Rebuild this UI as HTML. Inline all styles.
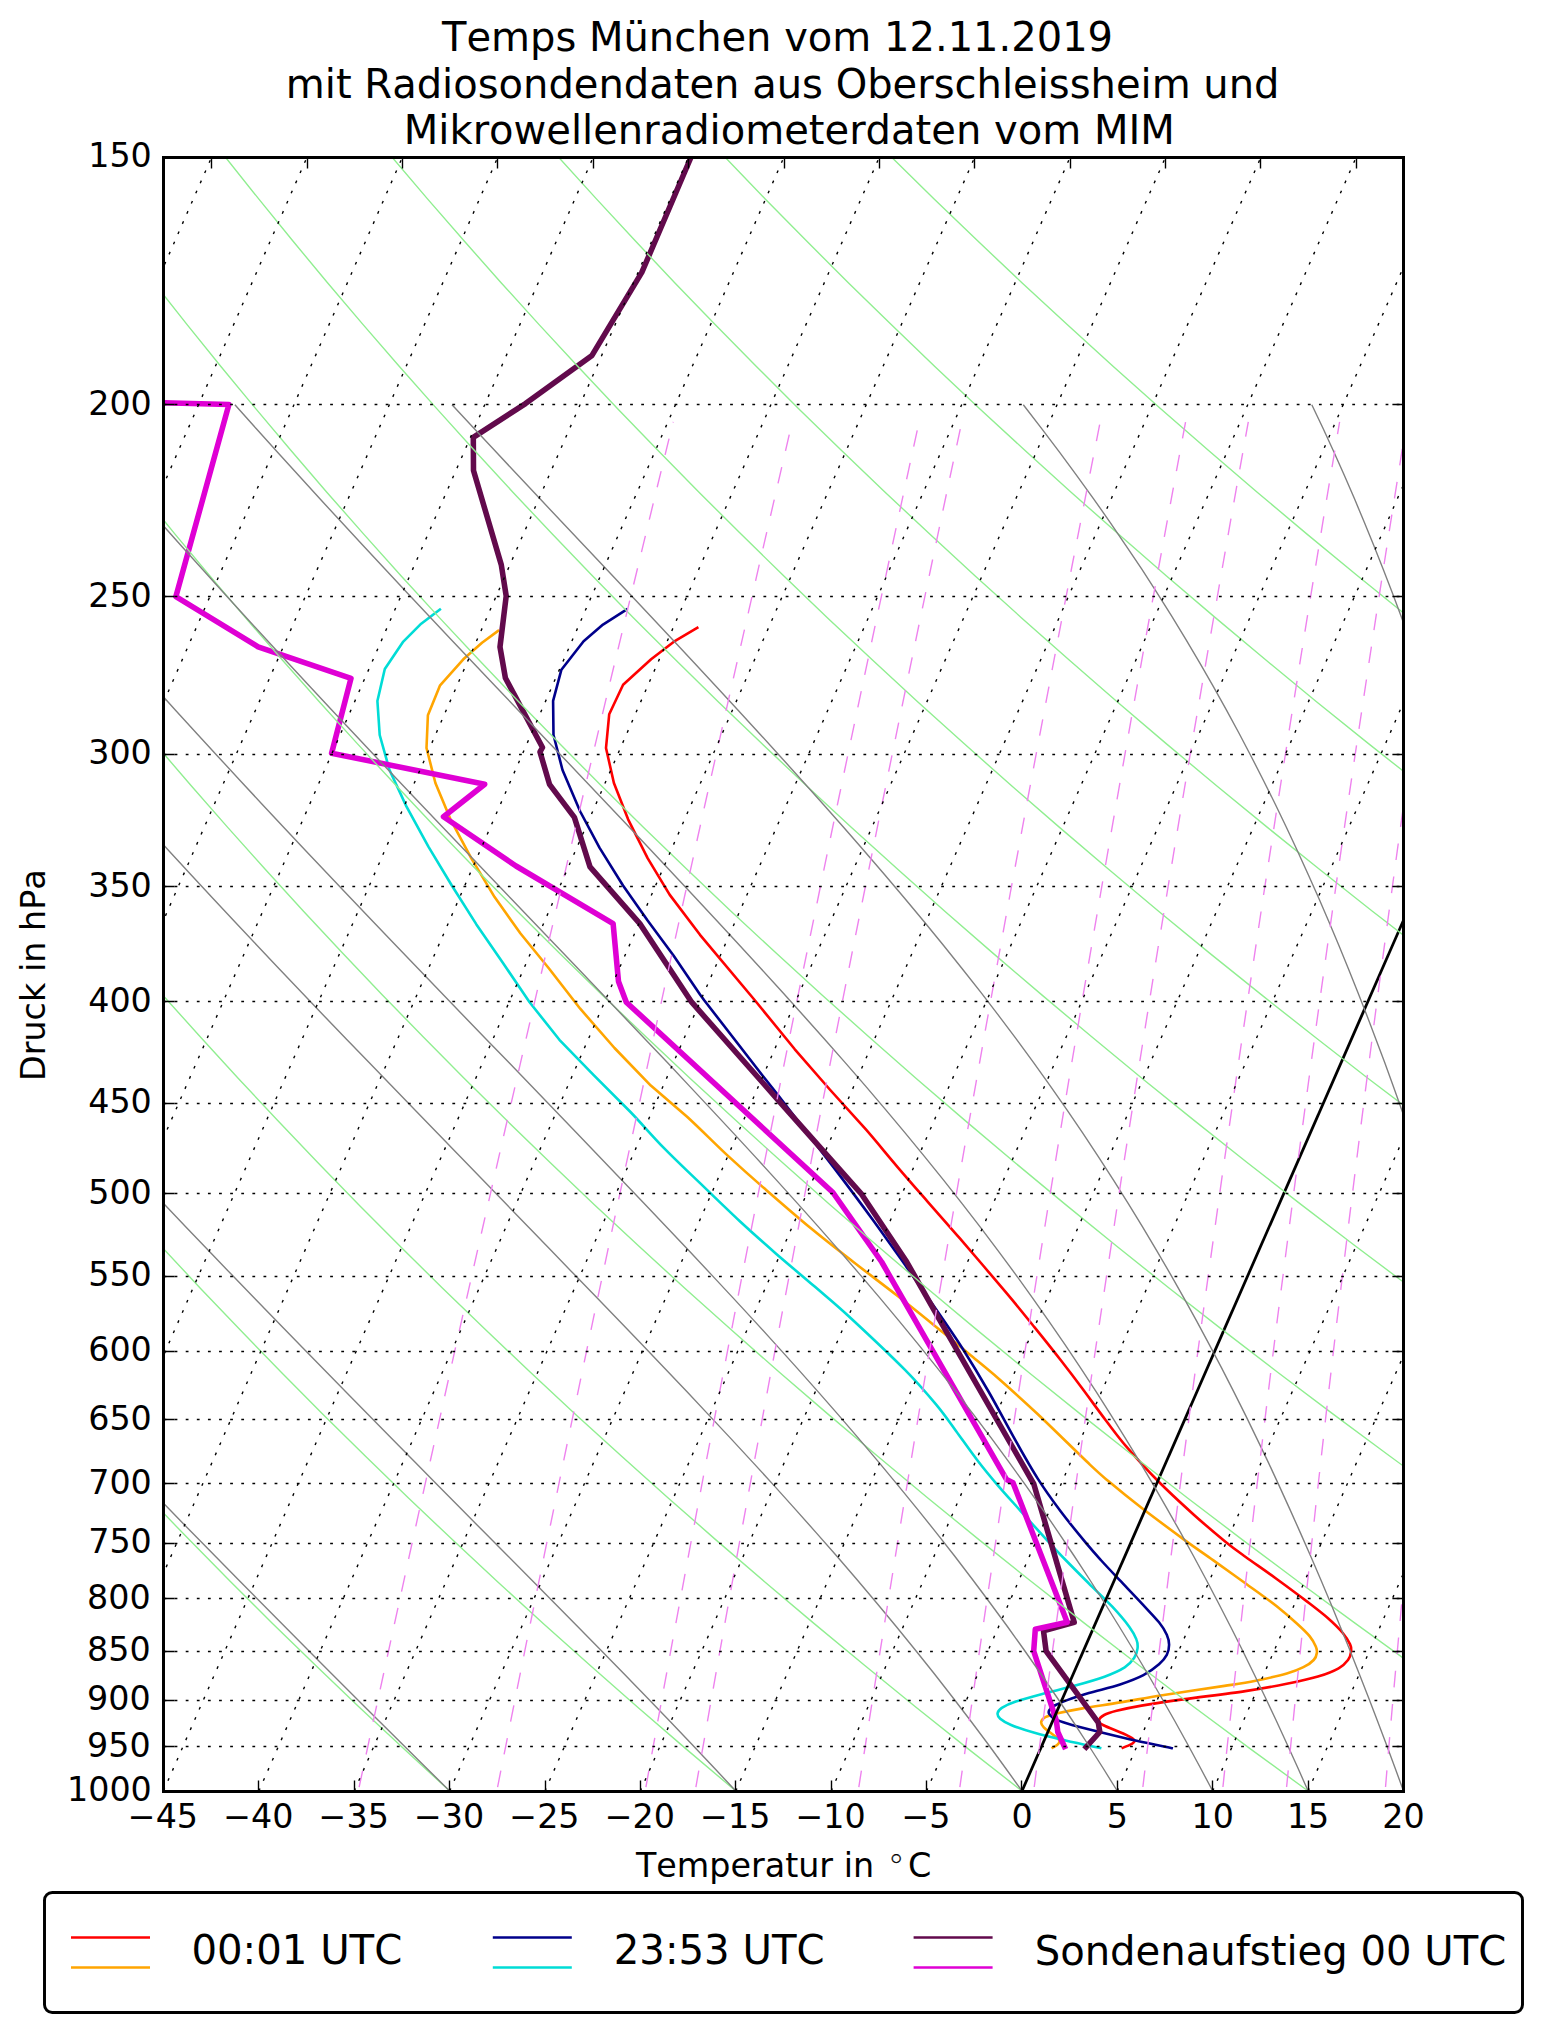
<!DOCTYPE html>
<html lang="de"><head><meta charset="utf-8"><title>Temps München vom 12.11.2019</title>
<style>html,body{margin:0;padding:0;background:#fff}svg{display:block}text{font-family:'DejaVu Sans','Liberation Sans',sans-serif;fill:#000;font-kerning:none;font-variant-ligatures:none}</style>
</head><body>
<svg width="1542" height="2032" viewBox="0 0 1542 2032">
<rect width="1542" height="2032" fill="#fff"/>
<defs><clipPath id="ax"><rect x="163.5" y="157.5" width="1240" height="1634"/></clipPath></defs>
<g clip-path="url(#ax)" fill="none" stroke-linejoin="round" stroke-linecap="butt">
<path d="M698.4,627.1 L673.9,641.7 L651.1,659.3 L623.1,684.8 L609.2,714.3 L606.0,748.0 L613.9,783.0 L628.1,819.3 L647.6,858.2 L669.6,894.6 L700.0,934.8 L754.6,1000.0 L794.8,1049.3 L829.8,1089.5 L866.1,1129.7 C877.4,1142.7 887.4,1155.2 897.8,1167.3 C908.1,1179.4 917.8,1190.4 928.2,1202.3 C938.6,1214.2 947.0,1223.5 960.1,1238.7 C973.2,1253.9 994.4,1278.7 1006.8,1293.4 C1019.2,1308.1 1025.4,1315.9 1034.4,1327.1 C1043.5,1338.3 1053.5,1350.8 1061.2,1360.8 C1069.0,1370.8 1073.6,1376.8 1081.0,1386.8 C1088.5,1396.8 1098.4,1410.6 1105.9,1420.5 C1113.5,1430.4 1117.6,1436.4 1126.2,1446.4 C1134.8,1456.4 1146.2,1469.1 1157.5,1480.5 C1168.7,1491.9 1182.5,1504.5 1193.8,1514.7 C1205.2,1524.9 1216.7,1534.6 1225.4,1541.7 C1234.1,1548.8 1237.7,1551.2 1246.0,1557.2 C1254.3,1563.2 1265.1,1570.5 1275.3,1578.0 C1285.6,1585.5 1298.7,1595.2 1307.5,1601.9 C1316.3,1608.7 1322.4,1613.3 1328.3,1618.5 C1334.2,1623.7 1339.2,1628.7 1342.8,1633.0 C1346.4,1637.3 1348.7,1641.3 1350.1,1644.4 C1351.5,1647.5 1351.4,1649.1 1351.1,1651.7 C1350.8,1654.3 1350.1,1657.2 1348.0,1660.0 C1345.9,1662.8 1343.6,1665.5 1338.6,1668.3 C1333.6,1671.1 1326.5,1674.0 1317.9,1676.6 C1309.3,1679.2 1298.9,1681.4 1286.8,1683.8 C1274.7,1686.2 1262.6,1688.5 1245.3,1691.1 C1228.0,1693.7 1200.3,1697.0 1183.0,1699.4 C1165.7,1701.8 1152.6,1703.7 1141.5,1705.6 C1130.4,1707.5 1122.8,1709.2 1116.6,1710.8 C1110.4,1712.4 1107.1,1713.4 1104.2,1715.0 C1101.3,1716.6 1099.3,1718.6 1099.1,1720.3 C1098.9,1722.0 1099.0,1722.8 1103.0,1725.0 C1107.0,1727.2 1118.2,1731.2 1123.2,1733.5 C1128.2,1735.8 1131.5,1737.6 1133.3,1739.0 C1135.1,1740.4 1134.8,1741.1 1134.1,1742.1 C1133.4,1743.1 1131.5,1744.2 1129.4,1745.2 C1127.3,1746.2 1122.9,1747.8 1121.6,1748.3" stroke="#ff0000" stroke-width="2.60"/>
<path d="M499.1,630.1 L482.0,642.7 L463.3,659.3 L440.1,685.3 L427.9,715.3 L426.5,748.0 L435.4,783.0 L450.5,819.3 L471.2,858.2 L494.6,897.1 L520.5,933.5 L549.0,968.5 L580.2,1008.7 L614.5,1048.0 L650.8,1085.6 L687.1,1116.7 C699.9,1128.4 714.9,1143.7 727.7,1155.6 C740.6,1167.5 750.1,1176.0 764.0,1188.1 C777.9,1200.2 796.0,1216.0 810.9,1228.3 C825.8,1240.6 839.0,1250.7 853.4,1262.0 C867.9,1273.3 882.8,1284.3 897.7,1296.0 C912.6,1307.7 930.8,1322.6 942.8,1332.3 C954.7,1342.0 960.1,1346.5 969.4,1354.3 C978.8,1362.1 987.6,1369.0 999.0,1379.0 C1010.3,1389.0 1022.4,1399.7 1037.6,1414.0 C1052.7,1428.3 1078.0,1453.3 1089.9,1464.6 C1101.8,1475.8 1100.1,1474.2 1108.9,1481.5 C1117.6,1488.8 1129.9,1498.8 1142.4,1508.5 C1155.0,1518.2 1172.2,1530.9 1184.0,1539.6 C1195.8,1548.2 1203.2,1553.1 1213.4,1560.4 C1223.6,1567.7 1234.8,1575.6 1245.3,1583.2 C1255.8,1590.8 1267.8,1599.2 1276.4,1606.0 C1285.0,1612.8 1291.6,1618.7 1297.1,1623.7 C1302.6,1628.7 1306.5,1632.3 1309.6,1636.1 C1312.7,1639.9 1314.6,1643.7 1315.8,1646.5 C1317.0,1649.3 1317.2,1650.5 1316.9,1652.7 C1316.6,1655.0 1316.0,1657.6 1313.7,1660.0 C1311.5,1662.4 1307.9,1665.0 1303.4,1667.2 C1298.9,1669.5 1294.8,1671.2 1286.8,1673.5 C1278.8,1675.8 1266.0,1678.6 1255.6,1680.7 C1245.2,1682.8 1240.0,1683.5 1224.5,1685.9 C1209.0,1688.3 1179.7,1692.5 1162.3,1695.2 C1144.9,1698.0 1133.6,1700.2 1120.1,1702.4 C1106.6,1704.6 1091.6,1706.8 1081.2,1708.6 C1070.8,1710.4 1063.8,1711.9 1057.8,1713.3 C1051.8,1714.7 1048.2,1715.8 1045.4,1717.2 C1042.6,1718.6 1041.5,1720.2 1041.2,1721.9 C1040.9,1723.6 1041.5,1725.0 1043.8,1727.3 C1046.0,1729.6 1052.1,1733.7 1054.7,1735.9 C1057.3,1738.1 1058.9,1739.1 1059.4,1740.5 C1059.9,1741.9 1059.1,1743.1 1057.8,1744.4 C1056.5,1745.7 1052.6,1747.7 1051.6,1748.3" stroke="#ffa500" stroke-width="2.60"/>
<path d="M627.6,608.9 L603.0,624.6 L583.6,641.2 L561.4,669.7 L553.1,700.8 L553.5,735.0 L562.5,770.0 L580.2,811.5 L599.6,847.9 L623.0,885.5 L647.6,920.5 L673.5,955.5 L700.0,994.4 L704.0,1000.0 L762.3,1075.2 L778.0,1095.0 L834.6,1168.6 C850.5,1189.5 861.3,1204.0 873.3,1220.5 C885.3,1237.0 896.0,1252.2 906.8,1267.4 C917.5,1282.6 928.3,1297.9 937.6,1311.5 C947.0,1325.1 954.4,1335.8 963.0,1349.2 C971.5,1362.6 980.0,1376.7 988.8,1392.0 C997.6,1407.3 1007.7,1426.7 1015.9,1441.2 C1024.0,1455.7 1030.4,1467.2 1037.9,1478.9 C1045.3,1490.6 1052.7,1500.7 1060.6,1511.3 C1068.6,1521.9 1078.8,1534.3 1085.5,1542.4 C1092.2,1550.5 1095.1,1553.7 1100.8,1560.0 C1106.5,1566.3 1112.8,1572.9 1119.7,1580.2 C1126.6,1587.5 1135.4,1596.6 1141.9,1603.6 C1148.4,1610.6 1154.8,1617.1 1159.0,1622.3 C1163.2,1627.5 1165.1,1631.0 1166.8,1634.7 C1168.5,1638.5 1169.1,1641.4 1169.1,1644.8 C1169.1,1648.2 1168.5,1651.7 1166.8,1654.9 C1165.1,1658.2 1162.9,1660.9 1159.0,1664.3 C1155.1,1667.7 1149.9,1671.8 1143.4,1675.2 C1136.9,1678.6 1129.2,1681.5 1120.1,1684.5 C1111.0,1687.5 1097.7,1690.5 1088.9,1693.1 C1080.1,1695.7 1072.9,1698.0 1067.2,1700.1 C1061.5,1702.2 1057.7,1703.8 1054.7,1705.5 C1051.7,1707.2 1050.2,1708.8 1049.3,1710.2 C1048.4,1711.6 1048.4,1712.7 1049.3,1714.1 C1050.2,1715.5 1051.7,1717.2 1054.7,1718.8 C1057.7,1720.3 1060.2,1721.3 1067.2,1723.4 C1074.2,1725.5 1085.3,1728.4 1096.7,1731.2 C1108.1,1734.0 1122.9,1737.7 1135.6,1740.5 C1148.3,1743.3 1166.8,1747.0 1173.0,1748.3" stroke="#00008b" stroke-width="2.60"/>
<path d="M440.9,608.7 L421.2,623.7 L403.3,641.6 L384.8,669.0 L377.4,701.0 L379.7,735.0 L389.5,770.0 L406.4,806.4 L428.4,846.6 L451.8,885.5 L476.4,924.4 L502.3,962.0 L529.6,1002.2 L559.4,1039.8 L593.7,1075.2 L630.0,1111.5 C641.7,1123.6 652.2,1136.0 663.8,1147.9 C675.4,1159.8 687.0,1170.6 699.8,1182.9 C712.5,1195.2 727.9,1210.1 740.4,1221.8 C753.0,1233.5 762.8,1242.1 775.2,1252.9 C787.6,1263.7 802.4,1276.0 814.7,1286.6 C827.0,1297.2 833.9,1302.6 849.0,1316.5 C864.0,1330.4 890.4,1355.2 905.0,1369.9 C919.5,1384.6 927.9,1394.7 936.4,1404.9 C944.9,1415.1 949.1,1421.6 956.0,1430.9 C962.8,1440.2 970.7,1451.6 977.7,1460.7 C984.7,1469.8 990.6,1476.9 997.8,1485.3 C1005.0,1493.7 1012.8,1502.2 1020.9,1511.3 C1029.1,1520.4 1039.2,1531.7 1046.7,1539.8 C1054.1,1547.9 1058.6,1552.8 1065.6,1560.0 C1072.6,1567.2 1080.9,1575.5 1088.7,1583.3 C1096.5,1591.1 1105.5,1599.4 1112.3,1606.7 C1119.1,1614.0 1125.4,1621.5 1129.4,1626.9 C1133.4,1632.4 1135.1,1635.8 1136.4,1639.4 C1137.8,1643.0 1137.9,1645.6 1137.5,1648.7 C1137.1,1651.8 1136.2,1655.0 1134.1,1658.1 C1132.0,1661.2 1129.6,1664.3 1124.7,1667.4 C1119.8,1670.5 1113.0,1673.6 1104.5,1676.7 C1096.0,1679.8 1083.8,1683.2 1073.4,1686.1 C1063.0,1689.0 1051.9,1691.3 1042.3,1693.9 C1032.7,1696.5 1022.5,1699.3 1015.8,1701.6 C1009.0,1703.9 1004.8,1706.0 1001.8,1707.9 C998.8,1709.9 997.9,1711.5 997.6,1713.3 C997.3,1715.1 998.0,1716.8 1000.2,1718.8 C1002.5,1720.8 1005.4,1722.7 1011.1,1725.0 C1016.8,1727.3 1025.4,1730.2 1034.5,1732.8 C1043.6,1735.4 1054.4,1737.9 1065.6,1740.5 C1076.8,1743.1 1095.4,1747.0 1101.4,1748.3" stroke="#00dcd6" stroke-width="2.60"/>
<path d="M691.1,157.0 L641.8,272.4 L592.0,355.4 L525.5,403.6 L473.3,437.3 L473.5,470.5 L501.3,564.9 L506.2,596.0 L500.0,646.9 L505.4,678.0 L542.5,747.5 L540.0,751.9 L549.5,784.3 L574.4,817.3 L590.0,866.8 L639.8,923.6 L691.7,1002.2 L777.9,1099.9 L860.9,1193.3 L906.5,1261.5 L937.8,1316.7 L1033.8,1484.0 L1074.2,1622.3 L1043.5,1630.8 L1046.1,1651.1 L1098.3,1722.6 L1099.8,1732.0 L1084.3,1749.1" stroke="#620a4c" stroke-width="5.56"/>
<path d="M163.5,402.8 L228.9,404.5 L175.9,596.6 L258.1,646.8 L351.0,678.3 L331.6,753.2 L484.7,784.3 L443.5,816.7 L516.0,866.0 L613.1,923.6 L618.5,981.5 L626.3,1002.2 L832.9,1192.5 L881.7,1262.0 L1006.6,1479.6 L1013.0,1482.7 L1067.2,1622.3 L1035.3,1629.3 L1033.7,1651.1 L1056.3,1720.3 L1057.8,1732.0 L1065.6,1749.1" stroke="#df00d4" stroke-width="5.56"/>
<path d="M1022.0,1791.0 L1737.9,157.0" stroke="#000" stroke-width="2.78"/>
<path d="M163.5,1791.0 L121.8,1749.1 L81.0,1707.2 L41.0,1665.3 L1.8,1623.4 L-36.6,1581.5 L-74.2,1539.6 L-111.1,1497.7 L-147.2,1455.8 L-182.5,1413.9 L-217.1,1372.0 L-251.0,1330.1 L-284.1,1288.2 L-316.6,1246.3 L-348.3,1204.4 L-379.4,1162.5 L-409.7,1120.6 L-439.4,1078.7 L-468.5,1036.8 L-496.8,994.9 L-524.6,953.1 L-551.7,911.2 L-578.2,869.3 L-604.0,827.4 L-629.3,785.5 L-653.9,743.6 L-678.0,701.7 L-701.4,659.8 L-724.3,617.9 L-746.7,576.0 L-768.4,534.1 L-789.6,492.2 L-810.3,450.3 L-830.4,408.4 L-850.0,366.5 L-869.1,324.6 L-887.6,282.7 L-905.7,240.8 L-923.2,198.9 L-940.3,157.0 M449.7,1791.0 L404.1,1749.1 L359.3,1707.2 L315.5,1665.3 L272.5,1623.4 L230.4,1581.5 L189.1,1539.6 L148.6,1497.7 L108.9,1455.8 L70.0,1413.9 L32.0,1372.0 L-5.4,1330.1 L-41.9,1288.2 L-77.7,1246.3 L-112.7,1204.4 L-147.0,1162.5 L-180.6,1120.6 L-213.4,1078.7 L-245.6,1036.8 L-277.0,994.9 L-307.8,953.1 L-337.9,911.2 L-367.3,869.3 L-396.1,827.4 L-424.2,785.5 L-451.7,743.6 L-478.5,701.7 L-504.7,659.8 L-530.3,617.9 L-555.3,576.0 L-579.7,534.1 L-603.5,492.2 L-626.8,450.3 L-649.4,408.4 L-671.5,366.5 L-693.1,324.6 L-714.0,282.7 L-734.5,240.8 L-754.4,198.9 L-773.8,157.0 M735.8,1791.0 L686.3,1749.1 L637.7,1707.2 L590.0,1665.3 L543.2,1623.4 L497.3,1581.5 L452.3,1539.6 L408.2,1497.7 L365.0,1455.8 L322.6,1413.9 L281.0,1372.0 L240.3,1330.1 L200.3,1288.2 L161.2,1246.3 L122.9,1204.4 L85.4,1162.5 L48.6,1120.6 L12.6,1078.7 L-22.7,1036.8 L-57.2,994.9 L-91.0,953.1 L-124.1,911.2 L-156.5,869.3 L-188.2,827.4 L-219.1,785.5 L-249.4,743.6 L-279.1,701.7 L-308.0,659.8 L-336.3,617.9 L-364.0,576.0 L-391.1,534.1 L-417.5,492.2 L-443.3,450.3 L-468.5,408.4 L-493.0,366.5 L-517.0,324.6 L-540.4,282.7 L-563.3,240.8 L-585.5,198.9 L-607.2,157.0 M1022.0,1791.0 L968.5,1749.1 L916.0,1707.2 L864.5,1665.3 L813.9,1623.4 L764.3,1581.5 L715.6,1539.6 L667.9,1497.7 L621.1,1455.8 L575.1,1413.9 L530.1,1372.0 L485.9,1330.1 L442.6,1288.2 L400.1,1246.3 L358.5,1204.4 L317.7,1162.5 L277.7,1120.6 L238.6,1078.7 L200.2,1036.8 L162.6,994.9 L125.7,953.1 L89.7,911.2 L54.4,869.3 L19.8,827.4 L-14.1,785.5 L-47.2,743.6 L-79.6,701.7 L-111.3,659.8 L-142.4,617.9 L-172.7,576.0 L-202.4,534.1 L-231.4,492.2 L-259.8,450.3 L-287.5,408.4 L-314.6,366.5 L-341.0,324.6 L-366.8,282.7 L-392.1,240.8 L-416.7,198.9 L-440.7,157.0 M1308.1,1791.0 L1250.7,1749.1 L1194.3,1707.2 L1138.9,1665.3 L1084.6,1623.4 L1031.3,1581.5 L978.9,1539.6 L927.5,1497.7 L877.1,1455.8 L827.7,1413.9 L779.1,1372.0 L731.5,1330.1 L684.8,1288.2 L639.0,1246.3 L594.1,1204.4 L550.1,1162.5 L506.9,1120.6 L464.6,1078.7 L423.1,1036.8 L382.4,994.9 L342.5,953.1 L303.5,911.2 L265.2,869.3 L227.7,827.4 L191.0,785.5 L155.0,743.6 L119.8,701.7 L85.4,659.8 L51.6,617.9 L18.6,576.0 L-13.7,534.1 L-45.3,492.2 L-76.2,450.3 L-106.5,408.4 L-136.1,366.5 L-165.0,324.6 L-193.2,282.7 L-220.9,240.8 L-247.9,198.9 L-274.2,157.0 M1594.3,1791.0 L1532.9,1749.1 L1472.6,1707.2 L1413.4,1665.3 L1355.3,1623.4 L1298.2,1581.5 L1242.2,1539.6 L1187.2,1497.7 L1133.2,1455.8 L1080.2,1413.9 L1028.2,1372.0 L977.2,1330.1 L927.1,1288.2 L877.9,1246.3 L829.7,1204.4 L782.4,1162.5 L736.0,1120.6 L690.5,1078.7 L645.9,1036.8 L602.2,994.9 L559.3,953.1 L517.3,911.2 L476.0,869.3 L435.6,827.4 L396.1,785.5 L357.3,743.6 L319.3,701.7 L282.1,659.8 L245.6,617.9 L209.9,576.0 L175.0,534.1 L140.8,492.2 L107.3,450.3 L74.5,408.4 L42.4,366.5 L11.0,324.6 L-19.6,282.7 L-49.7,240.8 L-79.0,198.9 L-107.7,157.0 M1880.4,1791.0 L1815.1,1749.1 L1750.9,1707.2 L1687.9,1665.3 L1626.0,1623.4 L1565.2,1581.5 L1505.5,1539.6 L1446.9,1497.7 L1389.3,1455.8 L1332.8,1413.9 L1277.3,1372.0 L1222.8,1330.1 L1169.3,1288.2 L1116.8,1246.3 L1065.3,1204.4 L1014.8,1162.5 L965.2,1120.6 L916.5,1078.7 L868.8,1036.8 L822.0,994.9 L776.1,953.1 L731.0,911.2 L686.9,869.3 L643.6,827.4 L601.1,785.5 L559.5,743.6 L518.7,701.7 L478.8,659.8 L439.6,617.9 L401.2,576.0 L363.7,534.1 L326.8,492.2 L290.8,450.3 L255.5,408.4 L220.9,366.5 L187.1,324.6 L154.0,282.7 L121.5,240.8 L89.8,198.9 L58.8,157.0 M2166.6,1791.0 L2097.3,1749.1 L2029.3,1707.2 L1962.4,1665.3 L1896.7,1623.4 L1832.2,1581.5 L1768.8,1539.6 L1706.5,1497.7 L1645.4,1455.8 L1585.3,1413.9 L1526.3,1372.0 L1468.4,1330.1 L1411.6,1288.2 L1355.7,1246.3 L1300.9,1204.4 L1247.1,1162.5 L1194.4,1120.6 L1142.5,1078.7 L1091.7,1036.8 L1041.8,994.9 L992.9,953.1 L944.8,911.2 L897.7,869.3 L851.5,827.4 L806.2,785.5 L761.8,743.6 L718.2,701.7 L675.5,659.8 L633.6,617.9 L592.6,576.0 L552.3,534.1 L512.9,492.2 L474.3,450.3 L436.5,408.4 L399.4,366.5 L363.1,324.6 L327.5,282.7 L292.7,240.8 L258.7,198.9 L225.3,157.0 M2452.7,1791.0 L2379.5,1749.1 L2307.6,1707.2 L2236.9,1665.3 L2167.4,1623.4 L2099.1,1581.5 L2032.1,1539.6 L1966.2,1497.7 L1901.4,1455.8 L1837.8,1413.9 L1775.4,1372.0 L1714.0,1330.1 L1653.8,1288.2 L1594.6,1246.3 L1536.5,1204.4 L1479.5,1162.5 L1423.5,1120.6 L1368.5,1078.7 L1314.6,1036.8 L1261.6,994.9 L1209.6,953.1 L1158.6,911.2 L1108.6,869.3 L1059.5,827.4 L1011.3,785.5 L964.0,743.6 L917.6,701.7 L872.2,659.8 L827.6,617.9 L783.9,576.0 L741.0,534.1 L699.0,492.2 L657.8,450.3 L617.4,408.4 L577.9,366.5 L539.1,324.6 L501.1,282.7 L464.0,240.8 L427.5,198.9 L391.9,157.0 M2738.9,1791.0 L2661.7,1749.1 L2585.9,1707.2 L2511.3,1665.3 L2438.1,1623.4 L2366.1,1581.5 L2295.3,1539.6 L2225.8,1497.7 L2157.5,1455.8 L2090.4,1413.9 L2024.4,1372.0 L1959.7,1330.1 L1896.0,1288.2 L1833.5,1246.3 L1772.2,1204.4 L1711.9,1162.5 L1652.7,1120.6 L1594.5,1078.7 L1537.5,1036.8 L1481.4,994.9 L1426.4,953.1 L1372.4,911.2 L1319.4,869.3 L1267.4,827.4 L1216.3,785.5 L1166.2,743.6 L1117.1,701.7 L1068.9,659.8 L1021.6,617.9 L975.2,576.0 L929.7,534.1 L885.1,492.2 L841.3,450.3 L798.4,408.4 L756.4,366.5 L715.1,324.6 L674.7,282.7 L635.2,240.8 L596.4,198.9 L558.4,157.0 M3025.0,1791.0 L2943.9,1749.1 L2864.2,1707.2 L2785.8,1665.3 L2708.8,1623.4 L2633.1,1581.5 L2558.6,1539.6 L2485.5,1497.7 L2413.6,1455.8 L2342.9,1413.9 L2273.5,1372.0 L2205.3,1330.1 L2138.3,1288.2 L2072.4,1246.3 L2007.8,1204.4 L1944.2,1162.5 L1881.8,1120.6 L1820.5,1078.7 L1760.3,1036.8 L1701.2,994.9 L1643.2,953.1 L1586.2,911.2 L1530.2,869.3 L1475.3,827.4 L1421.4,785.5 L1368.5,743.6 L1316.5,701.7 L1265.6,659.8 L1215.6,617.9 L1166.5,576.0 L1118.4,534.1 L1071.1,492.2 L1024.8,450.3 L979.4,408.4 L934.8,366.5 L891.2,324.6 L848.3,282.7 L806.4,240.8 L765.2,198.9 L724.9,157.0 M3311.2,1791.0 L3226.1,1749.1 L3142.5,1707.2 L3060.3,1665.3 L2979.5,1623.4 L2900.0,1581.5 L2821.9,1539.6 L2745.1,1497.7 L2669.6,1455.8 L2595.5,1413.9 L2522.6,1372.0 L2450.9,1330.1 L2380.5,1288.2 L2311.3,1246.3 L2243.4,1204.4 L2176.6,1162.5 L2111.0,1120.6 L2046.5,1078.7 L1983.2,1036.8 L1921.0,994.9 L1860.0,953.1 L1800.0,911.2 L1741.1,869.3 L1683.3,827.4 L1626.5,785.5 L1570.7,743.6 L1516.0,701.7 L1462.3,659.8 L1409.6,617.9 L1357.8,576.0 L1307.0,534.1 L1257.2,492.2 L1208.3,450.3 L1160.4,408.4 L1113.3,366.5 L1067.2,324.6 L1021.9,282.7 L977.6,240.8 L934.1,198.9 L891.4,157.0" stroke="#90ee90" stroke-width="1.39"/>
<path d="M449.7,1791.0 L425.9,1767.5 L402.2,1744.0 L378.5,1720.5 L354.9,1697.0 L331.4,1673.5 L308.0,1650.0 L284.7,1626.5 L261.4,1603.0 L238.2,1579.5 L215.1,1556.0 L192.0,1532.6 L169.1,1509.1 L146.2,1485.6 L123.5,1462.1 L100.9,1438.6 L78.4,1415.1 L56.1,1391.6 L33.9,1368.1 L11.9,1344.6 L-10.0,1321.1 L-31.8,1297.6 L-53.4,1274.1 L-74.8,1250.6 L-96.1,1227.1 L-117.2,1203.6 L-138.2,1180.1 L-158.9,1156.6 L-179.6,1133.1 L-200.0,1109.6 L-220.3,1086.1 L-240.5,1062.6 L-260.4,1039.2 L-280.2,1015.7 L-299.8,992.2 L-319.3,968.7 L-338.6,945.2 L-357.7,921.7 L-376.7,898.2 L-395.5,874.7 L-414.1,851.2 L-432.6,827.7 L-450.9,804.2 L-469.1,780.7 L-487.0,757.2 L-504.9,733.7 L-522.5,710.2 L-540.0,686.7 L-557.3,663.2 L-574.5,639.7 L-591.5,616.2 L-608.3,592.7 L-625.0,569.2 L-641.5,545.8 L-657.9,522.3 L-674.1,498.8 L-690.1,475.3 L-706.0,451.8 L-721.7,428.3 L-737.3,404.8 M735.8,1791.0 L713.8,1767.5 L691.6,1744.0 L669.2,1720.5 L646.5,1697.0 L623.7,1673.5 L600.7,1650.0 L577.6,1626.5 L554.4,1603.0 L531.2,1579.5 L507.9,1556.0 L484.6,1532.6 L461.3,1509.1 L438.0,1485.6 L414.9,1462.1 L391.7,1438.6 L368.6,1415.1 L345.5,1391.6 L322.5,1368.1 L299.5,1344.6 L276.6,1321.1 L253.8,1297.6 L231.1,1274.1 L208.5,1250.6 L185.9,1227.1 L163.6,1203.6 L141.3,1180.1 L119.2,1156.6 L97.2,1133.1 L75.4,1109.6 L53.7,1086.1 L32.2,1062.6 L10.8,1039.2 L-10.5,1015.7 L-31.5,992.2 L-52.4,968.7 L-73.2,945.2 L-93.8,921.7 L-114.2,898.2 L-134.4,874.7 L-154.5,851.2 L-174.4,827.7 L-194.2,804.2 L-213.8,780.7 L-233.2,757.2 L-252.5,733.7 L-271.6,710.2 L-290.5,686.7 L-309.3,663.2 L-327.9,639.7 L-346.3,616.2 L-364.6,592.7 L-382.7,569.2 L-400.6,545.8 L-418.4,522.3 L-436.0,498.8 L-453.5,475.3 L-470.8,451.8 L-487.9,428.3 L-504.8,404.8 M1022.0,1791.0 L1005.1,1767.5 L988.0,1744.0 L970.4,1720.5 L952.4,1697.0 L934.1,1673.5 L915.3,1650.0 L896.2,1626.5 L876.7,1603.0 L856.9,1579.5 L836.7,1556.0 L816.1,1532.6 L795.2,1509.1 L774.1,1485.6 L752.6,1462.1 L730.9,1438.6 L708.9,1415.1 L686.8,1391.6 L664.4,1368.1 L642.0,1344.6 L619.4,1321.1 L596.7,1297.6 L573.9,1274.1 L551.2,1250.6 L528.4,1227.1 L505.7,1203.6 L482.9,1180.1 L460.1,1156.6 L437.3,1133.1 L414.5,1109.6 L391.8,1086.1 L369.1,1062.6 L346.5,1039.2 L323.9,1015.7 L301.5,992.2 L279.1,968.7 L256.9,945.2 L234.8,921.7 L212.8,898.2 L191.0,874.7 L169.3,851.2 L147.7,827.7 L126.3,804.2 L105.0,780.7 L83.9,757.2 L62.9,733.7 L42.2,710.2 L21.5,686.7 L1.0,663.2 L-19.3,639.7 L-39.4,616.2 L-59.4,592.7 L-79.2,569.2 L-98.9,545.8 L-118.4,522.3 L-137.7,498.8 L-156.9,475.3 L-175.9,451.8 L-194.7,428.3 L-213.4,404.8 M1117.3,1791.0 L1102.7,1767.5 L1087.7,1744.0 L1072.4,1720.5 L1056.7,1697.0 L1040.6,1673.5 L1024.2,1650.0 L1007.4,1626.5 L990.1,1603.0 L972.5,1579.5 L954.6,1556.0 L936.2,1532.6 L917.4,1509.1 L898.2,1485.6 L878.7,1462.1 L858.8,1438.6 L838.6,1415.1 L818.0,1391.6 L797.1,1368.1 L775.9,1344.6 L754.5,1321.1 L732.8,1297.6 L710.9,1274.1 L688.8,1250.6 L666.5,1227.1 L644.2,1203.6 L621.7,1180.1 L599.2,1156.6 L576.7,1133.1 L554.1,1109.6 L531.5,1086.1 L508.9,1062.6 L486.2,1039.2 L463.5,1015.7 L440.9,992.2 L418.3,968.7 L395.7,945.2 L373.2,921.7 L350.8,898.2 L328.5,874.7 L306.2,851.2 L284.1,827.7 L262.1,804.2 L240.3,780.7 L218.6,757.2 L197.0,733.7 L175.5,710.2 L154.2,686.7 L133.1,663.2 L112.1,639.7 L91.3,616.2 L70.6,592.7 L50.1,569.2 L29.7,545.8 L9.6,522.3 L-10.5,498.8 L-30.3,475.3 L-50.0,451.8 L-69.6,428.3 L-88.9,404.8 M1212.7,1791.0 L1200.2,1767.5 L1187.5,1744.0 L1174.5,1720.5 L1161.1,1697.0 L1147.5,1673.5 L1133.5,1650.0 L1119.2,1626.5 L1104.6,1603.0 L1089.6,1579.5 L1074.2,1556.0 L1058.5,1532.6 L1042.4,1509.1 L1025.9,1485.6 L1009.0,1462.1 L991.7,1438.6 L974.0,1415.1 L955.9,1391.6 L937.4,1368.1 L918.5,1344.6 L899.2,1321.1 L879.6,1297.6 L859.6,1274.1 L839.3,1250.6 L818.7,1227.1 L797.7,1203.6 L776.5,1180.1 L755.1,1156.6 L733.4,1133.1 L711.5,1109.6 L689.5,1086.1 L667.4,1062.6 L645.2,1039.2 L622.9,1015.7 L600.6,992.2 L578.2,968.7 L555.7,945.2 L533.2,921.7 L510.7,898.2 L488.2,874.7 L465.7,851.2 L443.2,827.7 L420.8,804.2 L398.5,780.7 L376.2,757.2 L354.1,733.7 L332.0,710.2 L310.1,686.7 L288.3,663.2 L266.6,639.7 L245.0,616.2 L223.6,592.7 L202.4,569.2 L181.2,545.8 L160.3,522.3 L139.5,498.8 L118.8,475.3 L98.3,451.8 L78.0,428.3 L57.8,404.8 M1308.1,1791.0 L1297.7,1767.5 L1287.0,1744.0 L1276.2,1720.5 L1265.1,1697.0 L1253.8,1673.5 L1242.3,1650.0 L1230.5,1626.5 L1218.4,1603.0 L1206.1,1579.5 L1193.5,1556.0 L1180.6,1532.6 L1167.3,1509.1 L1153.8,1485.6 L1139.9,1462.1 L1125.6,1438.6 L1111.0,1415.1 L1096.1,1391.6 L1080.7,1368.1 L1065.0,1344.6 L1048.8,1321.1 L1032.3,1297.6 L1015.4,1274.1 L998.0,1250.6 L980.3,1227.1 L962.1,1203.6 L943.6,1180.1 L924.6,1156.6 L905.3,1133.1 L885.6,1109.6 L865.6,1086.1 L845.2,1062.6 L824.6,1039.2 L803.6,1015.7 L782.5,992.2 L761.1,968.7 L739.5,945.2 L717.8,921.7 L695.9,898.2 L673.9,874.7 L651.9,851.2 L629.8,827.7 L607.5,804.2 L585.2,780.7 L562.9,757.2 L540.5,733.7 L518.2,710.2 L495.9,686.7 L473.6,663.2 L451.3,639.7 L429.2,616.2 L407.1,592.7 L385.2,569.2 L363.3,545.8 L341.6,522.3 L319.9,498.8 L298.5,475.3 L277.1,451.8 L255.9,428.3 L234.9,404.8 M1403.5,1791.0 L1394.9,1767.5 L1386.2,1744.0 L1377.3,1720.5 L1368.3,1697.0 L1359.1,1673.5 L1349.8,1650.0 L1340.2,1626.5 L1330.6,1603.0 L1320.7,1579.5 L1310.6,1556.0 L1300.3,1532.6 L1289.8,1509.1 L1279.1,1485.6 L1268.2,1462.1 L1256.9,1438.6 L1245.5,1415.1 L1233.7,1391.6 L1221.7,1368.1 L1209.3,1344.6 L1196.7,1321.1 L1183.7,1297.6 L1170.4,1274.1 L1156.7,1250.6 L1142.7,1227.1 L1128.3,1203.6 L1113.5,1180.1 L1098.3,1156.6 L1082.8,1133.1 L1066.8,1109.6 L1050.4,1086.1 L1033.6,1062.6 L1016.4,1039.2 L998.7,1015.7 L980.7,992.2 L962.2,968.7 L943.4,945.2 L924.2,921.7 L904.6,898.2 L884.7,874.7 L864.5,851.2 L844.0,827.7 L823.2,804.2 L802.2,780.7 L781.0,757.2 L759.6,733.7 L738.1,710.2 L716.4,686.7 L694.6,663.2 L672.7,639.7 L650.7,616.2 L628.6,592.7 L606.5,569.2 L584.3,545.8 L562.1,522.3 L540.0,498.8 L517.9,475.3 L495.9,451.8 L473.9,428.3 L452.0,404.8 M1594.3,1791.0 L1588.5,1767.5 L1582.8,1744.0 L1577.0,1720.5 L1571.2,1697.0 L1565.3,1673.5 L1559.4,1650.0 L1553.4,1626.5 L1547.4,1603.0 L1541.3,1579.5 L1535.2,1556.0 L1529.0,1532.6 L1522.8,1509.1 L1516.4,1485.6 L1510.0,1462.1 L1503.6,1438.6 L1497.0,1415.1 L1490.4,1391.6 L1483.6,1368.1 L1476.8,1344.6 L1469.8,1321.1 L1462.8,1297.6 L1455.6,1274.1 L1448.3,1250.6 L1440.9,1227.1 L1433.3,1203.6 L1425.6,1180.1 L1417.8,1156.6 L1409.8,1133.1 L1401.6,1109.6 L1393.2,1086.1 L1384.7,1062.6 L1375.9,1039.2 L1367.0,1015.7 L1357.8,992.2 L1348.4,968.7 L1338.8,945.2 L1328.9,921.7 L1318.8,898.2 L1308.3,874.7 L1297.6,851.2 L1286.6,827.7 L1275.3,804.2 L1263.6,780.7 L1251.6,757.2 L1239.3,733.7 L1226.5,710.2 L1213.4,686.7 L1199.9,663.2 L1186.0,639.7 L1171.7,616.2 L1156.9,592.7 L1141.8,569.2 L1126.1,545.8 L1110.1,522.3 L1093.6,498.8 L1076.6,475.3 L1059.3,451.8 L1041.5,428.3 L1023.3,404.8 M1689.7,1791.0 L1685.0,1767.5 L1680.3,1744.0 L1675.6,1720.5 L1670.9,1697.0 L1666.2,1673.5 L1661.5,1650.0 L1656.8,1626.5 L1652.1,1603.0 L1647.3,1579.5 L1642.6,1556.0 L1637.8,1532.6 L1633.0,1509.1 L1628.2,1485.6 L1623.3,1462.1 L1618.4,1438.6 L1613.5,1415.1 L1608.5,1391.6 L1603.6,1368.1 L1598.5,1344.6 L1593.5,1321.1 L1588.4,1297.6 L1583.2,1274.1 L1578.0,1250.6 L1572.7,1227.1 L1567.4,1203.6 L1562.0,1180.1 L1556.6,1156.6 L1551.1,1133.1 L1545.5,1109.6 L1539.8,1086.1 L1534.0,1062.6 L1528.2,1039.2 L1522.3,1015.7 L1516.2,992.2 L1510.1,968.7 L1503.9,945.2 L1497.5,921.7 L1491.0,898.2 L1484.4,874.7 L1477.7,851.2 L1470.8,827.7 L1463.8,804.2 L1456.6,780.7 L1449.2,757.2 L1441.7,733.7 L1434.0,710.2 L1426.1,686.7 L1418.0,663.2 L1409.6,639.7 L1401.1,616.2 L1392.3,592.7 L1383.2,569.2 L1373.9,545.8 L1364.3,522.3 L1354.5,498.8 L1344.3,475.3 L1333.8,451.8 L1323.0,428.3 L1311.8,404.8" stroke="#808080" stroke-width="1.39"/>
<path d="M358.3,1791.0 L368.4,1743.8 L378.6,1696.6 L388.9,1649.4 L399.2,1602.2 L409.5,1554.9 L419.9,1507.7 L430.4,1460.5 L440.9,1413.3 L451.4,1366.1 L462.0,1318.9 L472.7,1271.7 L483.4,1224.5 L494.2,1177.2 L505.0,1130.0 L515.9,1082.8 L526.8,1035.6 L537.8,988.4 L548.8,941.2 L559.9,894.0 L571.0,846.8 L582.1,799.5 L593.4,752.3 L604.6,705.1 L615.9,657.9 L627.3,610.7 L638.7,563.5 L650.1,516.3 L661.6,469.1 L673.2,421.8 M496.8,1791.0 L506.2,1743.8 L515.6,1696.6 L525.1,1649.4 L534.7,1602.2 L544.3,1554.9 L554.0,1507.7 L563.7,1460.5 L573.5,1413.3 L583.4,1366.1 L593.3,1318.9 L603.3,1271.7 L613.3,1224.5 L623.4,1177.2 L633.6,1130.0 L643.8,1082.8 L654.0,1035.6 L664.3,988.4 L674.7,941.2 L685.1,894.0 L695.6,846.8 L706.1,799.5 L716.7,752.3 L727.3,705.1 L738.0,657.9 L748.8,610.7 L759.5,563.5 L770.4,516.3 L781.3,469.1 L792.2,421.8 M645.2,1791.0 L653.7,1743.8 L662.3,1696.6 L671.0,1649.4 L679.8,1602.2 L688.6,1554.9 L697.5,1507.7 L706.4,1460.5 L715.5,1413.3 L724.6,1366.1 L733.7,1318.9 L742.9,1271.7 L752.2,1224.5 L761.5,1177.2 L770.9,1130.0 L780.4,1082.8 L789.9,1035.6 L799.5,988.4 L809.2,941.2 L818.9,894.0 L828.6,846.8 L838.5,799.5 L848.4,752.3 L858.3,705.1 L868.3,657.9 L878.3,610.7 L888.5,563.5 L898.6,516.3 L908.8,469.1 L919.1,421.8 M695.2,1791.0 L703.5,1743.8 L711.8,1696.6 L720.2,1649.4 L728.7,1602.2 L737.2,1554.9 L745.9,1507.7 L754.5,1460.5 L763.3,1413.3 L772.1,1366.1 L781.0,1318.9 L790.0,1271.7 L799.0,1224.5 L808.1,1177.2 L817.2,1130.0 L826.4,1082.8 L835.7,1035.6 L845.0,988.4 L854.4,941.2 L863.9,894.0 L873.4,846.8 L883.0,799.5 L892.6,752.3 L902.3,705.1 L912.1,657.9 L921.9,610.7 L931.8,563.5 L941.7,516.3 L951.7,469.1 L961.8,421.8 M858.2,1791.0 L865.6,1743.8 L873.0,1696.6 L880.4,1649.4 L888.0,1602.2 L895.6,1554.9 L903.3,1507.7 L911.1,1460.5 L918.9,1413.3 L926.9,1366.1 L934.9,1318.9 L943.0,1271.7 L951.1,1224.5 L959.3,1177.2 L967.6,1130.0 L976.0,1082.8 L984.4,1035.6 L992.9,988.4 L1001.5,941.2 L1010.1,894.0 L1018.9,846.8 L1027.6,799.5 L1036.5,752.3 L1045.4,705.1 L1054.4,657.9 L1063.4,610.7 L1072.5,563.5 L1081.7,516.3 L1090.9,469.1 L1100.2,421.8 M959.3,1791.0 L966.0,1743.8 L972.8,1696.6 L979.7,1649.4 L986.6,1602.2 L993.7,1554.9 L1000.8,1507.7 L1008.0,1460.5 L1015.3,1413.3 L1022.6,1366.1 L1030.1,1318.9 L1037.6,1271.7 L1045.2,1224.5 L1052.9,1177.2 L1060.6,1130.0 L1068.4,1082.8 L1076.4,1035.6 L1084.3,988.4 L1092.4,941.2 L1100.5,894.0 L1108.7,846.8 L1117.0,799.5 L1125.3,752.3 L1133.7,705.1 L1142.2,657.9 L1150.7,610.7 L1159.4,563.5 L1168.1,516.3 L1176.8,469.1 L1185.6,421.8 M1033.7,1791.0 L1039.9,1743.8 L1046.3,1696.6 L1052.7,1649.4 L1059.2,1602.2 L1065.8,1554.9 L1072.5,1507.7 L1079.3,1460.5 L1086.1,1413.3 L1093.0,1366.1 L1100.1,1318.9 L1107.2,1271.7 L1114.4,1224.5 L1121.6,1177.2 L1129.0,1130.0 L1136.4,1082.8 L1143.9,1035.6 L1151.5,988.4 L1159.1,941.2 L1166.9,894.0 L1174.7,846.8 L1182.6,799.5 L1190.5,752.3 L1198.6,705.1 L1206.7,657.9 L1214.9,610.7 L1223.1,563.5 L1231.4,516.3 L1239.8,469.1 L1248.3,421.8 M1142.4,1791.0 L1148.0,1743.8 L1153.7,1696.6 L1159.4,1649.4 L1165.3,1602.2 L1171.2,1554.9 L1177.3,1507.7 L1183.4,1460.5 L1189.6,1413.3 L1195.9,1366.1 L1202.3,1318.9 L1208.8,1271.7 L1215.4,1224.5 L1222.0,1177.2 L1228.8,1130.0 L1235.6,1082.8 L1242.5,1035.6 L1249.5,988.4 L1256.6,941.2 L1263.7,894.0 L1271.0,846.8 L1278.3,799.5 L1285.7,752.3 L1293.2,705.1 L1300.7,657.9 L1308.3,610.7 L1316.1,563.5 L1323.8,516.3 L1331.7,469.1 L1339.6,421.8 M1222.5,1791.0 L1227.5,1743.8 L1232.7,1696.6 L1238.0,1649.4 L1243.3,1602.2 L1248.8,1554.9 L1254.3,1507.7 L1260.0,1460.5 L1265.7,1413.3 L1271.5,1366.1 L1277.4,1318.9 L1283.5,1271.7 L1289.6,1224.5 L1295.8,1177.2 L1302.1,1130.0 L1308.4,1082.8 L1314.9,1035.6 L1321.5,988.4 L1328.1,941.2 L1334.8,894.0 L1341.6,846.8 L1348.5,799.5 L1355.5,752.3 L1362.6,705.1 L1369.7,657.9 L1376.9,610.7 L1384.2,563.5 L1391.6,516.3 L1399.1,469.1 L1406.6,421.8 M1286.2,1791.0 L1290.9,1743.8 L1295.6,1696.6 L1300.5,1649.4 L1305.4,1602.2 L1310.5,1554.9 L1315.6,1507.7 L1320.9,1460.5 L1326.2,1413.3 L1331.7,1366.1 L1337.2,1318.9 L1342.9,1271.7 L1348.6,1224.5 L1354.5,1177.2 L1360.4,1130.0 L1366.4,1082.8 L1372.5,1035.6 L1378.7,988.4 L1385.0,941.2 L1391.4,894.0 L1397.8,846.8 L1404.4,799.5 L1411.0,752.3 L1417.8,705.1 L1424.6,657.9 L1431.5,610.7 L1438.4,563.5 L1445.5,516.3 L1452.6,469.1 L1459.9,421.8 M1385.2,1791.0 L1389.1,1743.8 L1393.2,1696.6 L1397.5,1649.4 L1401.8,1602.2 L1406.2,1554.9 L1410.7,1507.7 L1415.4,1460.5 L1420.1,1413.3 L1425.0,1366.1 L1429.9,1318.9 L1435.0,1271.7 L1440.1,1224.5 L1445.4,1177.2 L1450.7,1130.0 L1456.2,1082.8 L1461.7,1035.6 L1467.3,988.4 L1473.1,941.2 L1478.9,894.0 L1484.8,846.8 L1490.9,799.5 L1497.0,752.3 L1503.2,705.1 L1509.4,657.9 L1515.8,610.7 L1522.3,563.5 L1528.8,516.3 L1535.5,469.1 L1542.2,421.8" stroke="#ee82ee" stroke-width="1.39" stroke-dasharray="16.67 16.67" stroke-dashoffset="-4"/>
<path d="M-695.0,1791.0 L21.0,157.0 M-599.6,1791.0 L116.3,157.0 M-504.2,1791.0 L211.7,157.0 M-408.8,1791.0 L307.1,157.0 M-313.4,1791.0 L402.5,157.0 M-218.0,1791.0 L497.9,157.0 M-122.7,1791.0 L593.3,157.0 M-27.3,1791.0 L688.6,157.0 M68.1,1791.0 L784.0,157.0 M163.5,1791.0 L879.4,157.0 M258.9,1791.0 L974.8,157.0 M354.3,1791.0 L1070.2,157.0 M449.7,1791.0 L1165.6,157.0 M545.0,1791.0 L1261.0,157.0 M640.4,1791.0 L1356.3,157.0 M735.8,1791.0 L1451.7,157.0 M831.2,1791.0 L1547.1,157.0 M926.6,1791.0 L1642.5,157.0 M1022.0,1791.0 L1737.9,157.0 M1117.3,1791.0 L1833.3,157.0 M1212.7,1791.0 L1928.6,157.0 M1308.1,1791.0 L2024.0,157.0 M1403.5,1791.0 L2119.4,157.0" stroke="#000" stroke-width="1.39" stroke-dasharray="2.78 8.33"/>
<path d="M163.5,404.5 L1403.5,404.5 M163.5,596.5 L1403.5,596.5 M163.5,754.5 L1403.5,754.5 M163.5,886.5 L1403.5,886.5 M163.5,1001.5 L1403.5,1001.5 M163.5,1103.5 L1403.5,1103.5 M163.5,1193.5 L1403.5,1193.5 M163.5,1276.5 L1403.5,1276.5 M163.5,1351.5 L1403.5,1351.5 M163.5,1419.5 L1403.5,1419.5 M163.5,1483.5 L1403.5,1483.5 M163.5,1543.5 L1403.5,1543.5 M163.5,1598.5 L1403.5,1598.5 M163.5,1651.5 L1403.5,1651.5 M163.5,1700.5 L1403.5,1700.5 M163.5,1746.5 L1403.5,1746.5" stroke="#000" stroke-width="1.39" stroke-dasharray="2.78 8.33"/>
</g>
<path d="M163.5,404.5 h11.1 M1403.5,404.5 h-11.1 M163.5,596.5 h11.1 M1403.5,596.5 h-11.1 M163.5,754.5 h11.1 M1403.5,754.5 h-11.1 M163.5,886.5 h11.1 M1403.5,886.5 h-11.1 M163.5,1001.5 h11.1 M1403.5,1001.5 h-11.1 M163.5,1103.5 h11.1 M1403.5,1103.5 h-11.1 M163.5,1193.5 h11.1 M1403.5,1193.5 h-11.1 M163.5,1276.5 h11.1 M1403.5,1276.5 h-11.1 M163.5,1351.5 h11.1 M1403.5,1351.5 h-11.1 M163.5,1419.5 h11.1 M1403.5,1419.5 h-11.1 M163.5,1483.5 h11.1 M1403.5,1483.5 h-11.1 M163.5,1543.5 h11.1 M1403.5,1543.5 h-11.1 M163.5,1598.5 h11.1 M1403.5,1598.5 h-11.1 M163.5,1651.5 h11.1 M1403.5,1651.5 h-11.1 M163.5,1700.5 h11.1 M1403.5,1700.5 h-11.1 M163.5,1746.5 h11.1 M1403.5,1746.5 h-11.1 M163.5,1791.5 v-11.1 M258.5,1791.5 v-11.1 M354.5,1791.5 v-11.1 M449.5,1791.5 v-11.1 M545.5,1791.5 v-11.1 M640.5,1791.5 v-11.1 M735.5,1791.5 v-11.1 M831.5,1791.5 v-11.1 M926.5,1791.5 v-11.1 M1021.5,1791.5 v-11.1 M1117.5,1791.5 v-11.1 M1212.5,1791.5 v-11.1 M1308.5,1791.5 v-11.1 M1403.5,1791.5 v-11.1 M211.5,157.5 v11.1 M307.5,157.5 v11.1 M402.5,157.5 v11.1 M497.5,157.5 v11.1 M593.5,157.5 v11.1 M688.5,157.5 v11.1 M784.5,157.5 v11.1 M879.5,157.5 v11.1 M974.5,157.5 v11.1 M1070.5,157.5 v11.1 M1165.5,157.5 v11.1 M1260.5,157.5 v11.1 M1356.5,157.5 v11.1" stroke="#000" stroke-width="1.39" fill="none"/>
<rect x="163.5" y="157.5" width="1240" height="1634" fill="none" stroke="#000" stroke-width="3" stroke-linejoin="miter"/>
<g font-size="33.33px">
<text x="151.8" y="167" text-anchor="end">150</text>
<text x="151.8" y="415" text-anchor="end">200</text>
<text x="151.8" y="607" text-anchor="end">250</text>
<text x="151.8" y="764" text-anchor="end">300</text>
<text x="151.8" y="897" text-anchor="end">350</text>
<text x="151.8" y="1012" text-anchor="end">400</text>
<text x="151.8" y="1113" text-anchor="end">450</text>
<text x="151.8" y="1204" text-anchor="end">500</text>
<text x="151.8" y="1286" text-anchor="end">550</text>
<text x="151.8" y="1361" text-anchor="end">600</text>
<text x="151.8" y="1430" text-anchor="end">650</text>
<text x="151.8" y="1494" text-anchor="end">700</text>
<text x="151.8" y="1553" text-anchor="end">750</text>
<text x="150.7" y="1609" text-anchor="end">800</text>
<text x="150.7" y="1661" text-anchor="end">850</text>
<text x="150.7" y="1710" text-anchor="end">900</text>
<text x="150.7" y="1757" text-anchor="end">950</text>
<text x="151.8" y="1801" text-anchor="end">1000</text>
<text x="162.9" y="1828" text-anchor="middle">−45</text>
<text x="258.3" y="1828" text-anchor="middle">−40</text>
<text x="353.7" y="1828" text-anchor="middle">−35</text>
<text x="449.1" y="1828" text-anchor="middle">−30</text>
<text x="544.4" y="1828" text-anchor="middle">−25</text>
<text x="639.8" y="1828" text-anchor="middle">−20</text>
<text x="735.2" y="1828" text-anchor="middle">−15</text>
<text x="830.6" y="1828" text-anchor="middle">−10</text>
<text x="926.0" y="1828" text-anchor="middle">−5</text>
<text x="1022.0" y="1828" text-anchor="middle">0</text>
<text x="1117.3" y="1828" text-anchor="middle">5</text>
<text x="1212.7" y="1828" text-anchor="middle">10</text>
<text x="1308.1" y="1828" text-anchor="middle">15</text>
<text x="1403.5" y="1828" text-anchor="middle">20</text>
</g>
<text x="635.90" y="1876.80" font-size="33.37px" text-anchor="start">Temperatur in</text>
<text x="886.90" y="1870.00" font-size="30.80px" text-anchor="start" stroke="#000" stroke-width="0.35">◦</text>
<text x="908.00" y="1876.80" font-size="33.50px" text-anchor="start">C</text>
<text transform="translate(44.80,1081.00) rotate(-90)" font-size="33.40px">Druck in hPa</text>
<text x="442.00" y="51.00" font-size="40.00px" text-anchor="start">Temps München vom 12.11.2019</text>
<text x="285.80" y="98.00" font-size="40.04px" text-anchor="start">mit Radiosondendaten aus Oberschleissheim und</text>
<text x="403.80" y="144.00" font-size="40.04px" text-anchor="start">Mikrowellenradiometerdaten vom MIM</text>
<rect x="44.5" y="1892.5" width="1478" height="120" rx="7.7" ry="7.7" fill="#fff" stroke="#000" stroke-width="2.95"/>
<g stroke-width="2.6" fill="none">
<path d="M71.0,1937.5 h79" stroke="#ff0000"/><path d="M71.0,1967.5 h79" stroke="#ffa500"/>
<path d="M492.8,1937.5 h79" stroke="#00008b"/><path d="M492.8,1967.5 h79" stroke="#00dcd6"/>
<path d="M913.6,1937.5 h79" stroke="#620a4c"/><path d="M913.6,1967.5 h79" stroke="#df00d4"/>
</g>
<text x="191.42" y="1964.00" font-size="40.24px" text-anchor="start">00:01 UTC</text>
<text x="613.78" y="1964.00" font-size="40.22px" text-anchor="start">23:53 UTC</text>
<text x="1034.67" y="1965.00" font-size="40.14px" text-anchor="start">Sondenaufstieg 00 UTC</text>
</svg></body></html>
